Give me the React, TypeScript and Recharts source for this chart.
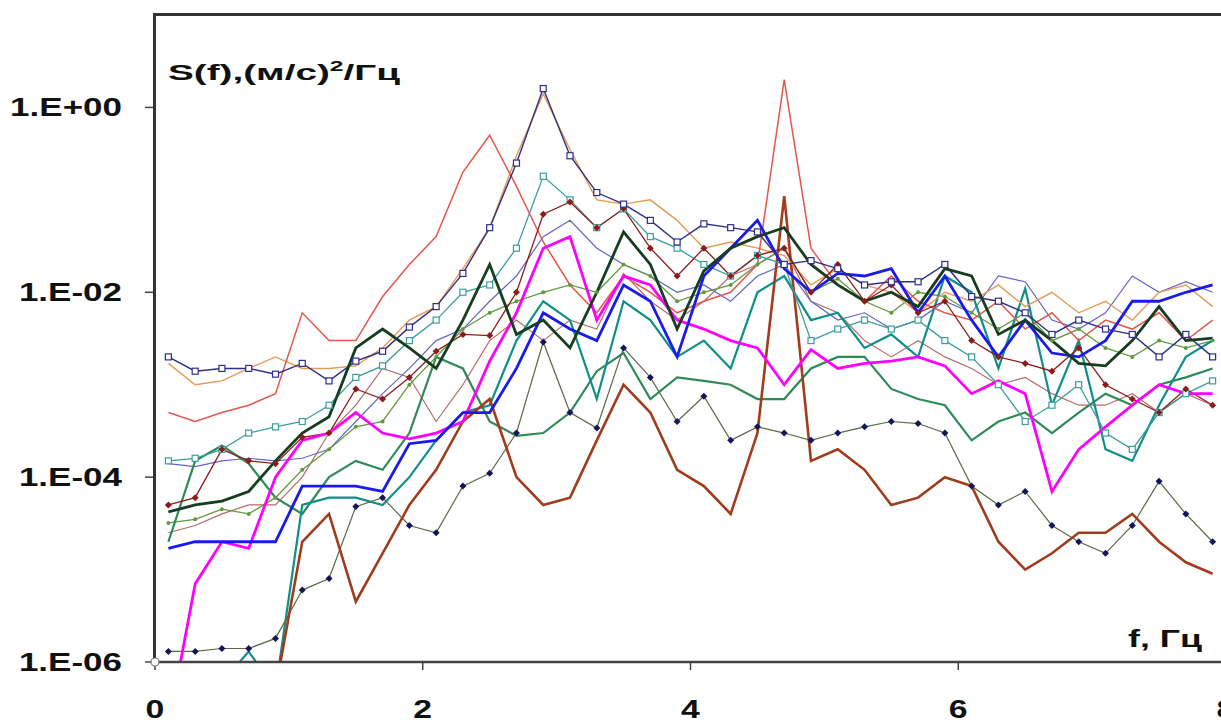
import { LineChart, Line, XAxis, YAxis } from "recharts";

// frequency grid, Hz
const freq = [
  0.1, 0.3, 0.5, 0.7, 0.9, 1.1, 1.3, 1.5, 1.7, 1.9,
  2.1, 2.3, 2.5, 2.7, 2.9, 3.1, 3.3, 3.5, 3.7, 3.9,
  4.1, 4.3, 4.5, 4.7, 4.9, 5.1, 5.3, 5.5, 5.7, 5.9,
  6.1, 6.3, 6.5, 6.7, 6.9, 7.1, 7.3, 7.5, 7.7, 7.9,
];

const xTicks = [0, 2, 4, 6, 8];
const yTicks = [1e-6, 1e-4, 1e-2, 1];
const yTickLabels = ["1.E-06", "1.E-04", "1.E-02", "1.E+00"];

// spectra S(f), (m/s)^2/Hz
const redThin = [
  5e-4, 4e-4, 5e-4, 6e-4, 8e-4, 6e-3, 3e-3, 3e-3, 9e-3, 2e-2,
  4e-2, 0.2, 0.5, 0.14, 0.035, 1.2e-2, 6e-3, 1.5e-2, 1e-2, 6e-3,
  8e-3, 1e-2, 2e-2, 2.0, 3e-2, 1.2e-2, 8e-3, 1.5e-2, 8e-3, 6e-3,
  5e-3, 8e-3, 4e-3, 6e-3, 3e-3, 5e-3, 4e-3, 6e-3, 3e-3, 5e-3,
];
const orangeThin = [
  1.7e-3, 1e-3, 1.1e-3, 1.5e-3, 2e-3, 1.5e-3, 1.5e-3, 1.6e-3, 2.5e-3, 5e-3,
  7e-3, 1.8e-2, 5e-2, 0.3, 1.4, 0.35, 0.1, 0.09, 0.1, 0.06,
  0.03, 0.035, 0.03, 0.025, 0.012, 0.018, 0.012, 0.01, 0.006, 0.01,
  0.008, 0.012, 0.007, 0.01, 0.006, 0.008, 0.005, 0.01, 0.012, 0.007,
];
const navySquares = [
  2e-3, 1.4e-3, 1.5e-3, 1.5e-3, 1.3e-3, 1.7e-3, 1.1e-3, 1.8e-3, 2.3e-3, 4.2e-3,
  7e-3, 1.6e-2, 5e-2, 0.25, 1.6, 0.3, 0.12, 0.09, 0.06, 0.035,
  0.055, 0.05, 0.045, 0.02, 0.022, 0.018, 0.012, 0.013, 0.013, 0.02,
  0.009, 0.008, 0.006, 0.0035, 0.005, 0.004, 0.0035, 0.002, 0.0035, 0.002,
];
const tealSquares = [
  1.5e-4, 1.6e-4, 2e-4, 3e-4, 3.5e-4, 4e-4, 6e-4, 1.2e-3, 1.6e-3, 3e-3,
  5e-3, 1e-2, 1.2e-2, 3e-2, 0.18, 0.1, 0.05, 0.08, 0.04, 0.03,
  0.02, 0.015, 0.025, 0.02, 0.003, 0.004, 0.005, 0.004, 0.005, 0.003,
  0.002, 0.001, 4e-4, 6e-4, 1e-3, 3e-4, 2e-4, 5e-4, 8e-4, 1.1e-3,
];
const maroonDots = [
  5e-5, 6e-5, 2e-4, 1.5e-4, 1.4e-4, 2.7e-4, 3e-4, 9e-4, 7e-4, 1.2e-3,
  2.3e-3, 3.5e-3, 3.4e-3, 1e-2, 7e-2, 0.095, 0.05, 0.08, 0.03, 0.015,
  0.03, 0.015, 0.025, 0.03, 0.01, 0.02, 0.008, 0.012, 0.006, 0.008,
  0.003, 0.002, 0.0017, 0.0014, 0.0025, 0.001, 7e-4, 5e-4, 9e-4, 6e-4,
];
const magenta = [
  2e-7, 7e-6, 2e-5, 1.7e-5, 1e-4, 2.5e-4, 3e-4, 5e-4, 3e-4, 2.6e-4,
  3e-4, 4e-4, 1.8e-3, 6e-3, 3e-2, 4e-2, 5e-3, 1.5e-2, 1.2e-2, 5e-3,
  4e-3, 3e-3, 2.5e-3, 1e-3, 2.4e-3, 1.5e-3, 1.7e-3, 1.8e-3, 2e-3, 1.6e-3,
  8e-4, 1.1e-3, 8e-4, 7e-5, 2e-4, 3.5e-4, 6e-4, 1e-3, 8e-4, 8e-4,
];
const blue = [
  1.7e-5, 2e-5, 2e-5, 2e-5, 2e-5, 8e-5, 8e-5, 8e-5, 7e-5, 2.3e-4,
  2.5e-4, 5e-4, 5e-4, 1.5e-3, 6e-3, 4e-3, 3e-3, 1.2e-2, 8e-3, 2e-3,
  1.5e-2, 3e-2, 6e-2, 1.8e-2, 1e-2, 1.6e-2, 1.5e-2, 1.8e-2, 6e-3, 1.5e-2,
  5e-3, 2e-3, 5e-3, 2.2e-3, 2e-3, 3e-3, 8e-3, 8e-3, 1e-2, 1.2e-2,
];
const darkGreen = [
  4.2e-5, 5e-5, 5.5e-5, 7e-5, 1.5e-4, 3e-4, 4.5e-4, 2.5e-3, 4e-3, 2.5e-3,
  1.5e-3, 5e-3, 2e-2, 3.5e-3, 5e-3, 2.5e-3, 1e-2, 4.5e-2, 2e-2, 4e-3,
  1.7e-2, 3e-2, 4e-2, 5e-2, 2e-2, 1.2e-2, 8e-3, 1e-2, 7e-3, 1.8e-2,
  1.5e-2, 3.5e-3, 5e-3, 3e-3, 1.7e-3, 1.6e-3, 3e-3, 7e-3, 3e-3, 3.2e-3,
];
const green = [
  2e-5, 1.5e-4, 2.2e-4, 1.4e-4, 6e-5, 4e-5, 1e-4, 1.5e-4, 1.2e-4, 3e-4,
  2e-3, 1.5e-3, 4e-4, 2.8e-4, 3e-4, 5e-4, 1.4e-3, 2.2e-3, 7e-4, 1.2e-3,
  1.1e-3, 1e-3, 7e-4, 7e-4, 1.5e-3, 2e-3, 2e-3, 9e-4, 7e-4, 6e-4,
  2.5e-4, 4e-4, 5e-4, 3e-4, 5e-4, 8e-4, 6e-4, 1e-3, 1.2e-3, 1.5e-3,
];
const teal = [
  5e-7, 1e-6, 6e-7, 1.3e-6, 5e-7, 5e-5, 6e-5, 6e-5, 5e-5, 1e-4,
  2.5e-4, 5e-4, 6e-4, 3e-3, 8e-3, 5e-3, 7e-4, 8e-3, 5e-3, 2e-3,
  3e-3, 1.5e-3, 1e-2, 1.5e-2, 5e-3, 6e-3, 2.5e-3, 3.5e-3, 2e-3, 1.5e-2,
  1e-2, 1.5e-3, 1.1e-2, 6e-4, 3e-3, 2e-4, 1.5e-4, 6e-4, 2e-3, 3e-3,
];
const brown = [
  3e-7, 3e-7, 3e-7, 3e-7, 5e-7, 2e-5, 4e-5, 4.5e-6, 1.5e-5, 5e-5,
  1.2e-4, 4e-4, 7e-4, 1e-4, 5e-5, 6e-5, 2.5e-4, 1e-3, 5e-4, 1.2e-4,
  8e-5, 4e-5, 3e-4, 0.11, 1.5e-4, 2e-4, 1.2e-4, 5e-5, 6e-5, 1e-4,
  8e-5, 2e-5, 1e-5, 1.5e-5, 2.5e-5, 2.5e-5, 4e-5, 2e-5, 1.2e-5, 9e-6,
];
const navyDots = [
  1.3e-6, 1.3e-6, 1.4e-6, 1.4e-6, 1.8e-6, 6e-6, 8e-6, 4.8e-5, 6e-5, 3e-5,
  2.5e-5, 8e-5, 1.1e-4, 3e-4, 2.9e-3, 5e-4, 3.4e-4, 2.5e-3, 1.2e-3, 4e-4,
  7.5e-4, 2.5e-4, 3.5e-4, 3e-4, 2.5e-4, 3e-4, 3.5e-4, 4e-4, 3.8e-4, 3e-4,
  8e-5, 5e-5, 7e-5, 3e-5, 2e-5, 1.5e-5, 3e-5, 9e-5, 4e-5, 2e-5,
];
const oliveDots = [
  3.2e-5, 3.5e-5, 4.5e-5, 4e-5, 6e-5, 1.2e-4, 2e-4, 3.5e-4, 4e-4, 1e-3,
  2e-3, 4e-3, 6e-3, 8e-3, 1e-2, 1.2e-2, 1e-2, 2e-2, 1.5e-2, 8e-3,
  1e-2, 1.2e-2, 2e-2, 3e-2, 1e-2, 1.4e-2, 8e-3, 6e-3, 1e-2, 9e-3,
  6e-3, 4e-3, 6e-3, 3e-3, 4e-3, 2.5e-3, 2e-3, 3e-3, 2.5e-3, 3e-3,
];
const rosyThin = [
  2.5e-5, 3e-5, 4e-5, 5e-5, 5e-5, 1e-4, 3e-4, 6e-4, 1.5e-3, 1.2e-3,
  4e-4, 1e-3, 3e-3, 5e-3, 3e-3, 5e-3, 4e-3, 1.6e-2, 8e-3, 5e-3,
  8e-3, 1.5e-2, 2e-2, 3e-2, 8e-3, 6e-3, 3e-3, 2e-3, 3e-3, 2e-3,
  1.5e-3, 1e-3, 1.2e-3, 8e-4, 6e-4, 6e-4, 8e-4, 5e-4, 8e-4, 6e-4,
];
const slateThin = [
  1.4e-4, 1.3e-4, 1.5e-4, 1.6e-4, 1.5e-4, 1.6e-4, 2e-4, 4e-4, 8e-4, 1.5e-3,
  3e-3, 4e-3, 8e-3, 1.5e-2, 4e-2, 6e-2, 3e-2, 2e-2, 1.5e-2, 1e-2,
  1.2e-2, 8e-3, 1.5e-2, 2e-2, 8e-3, 5e-3, 6e-3, 4e-3, 5e-3, 8e-3,
  6e-3, 1.5e-2, 1.3e-2, 5e-3, 4e-3, 6e-3, 1.5e-2, 1e-2, 1.3e-2, 1e-2,
];

type Marker = "square" | "diamond" | "dot" | null;

const series: { key: string; values: number[]; color: string; width: number; marker: Marker; markerColor?: string }[] = [
  { key: "rosy", values: rosyThin, color: "#b86a6a", width: 1.2, marker: null },
  { key: "slate", values: slateThin, color: "#6464c4", width: 1.2, marker: null },
  { key: "olive", values: oliveDots, color: "#5f9a3c", width: 1.3, marker: "dot" },
  { key: "green", values: green, color: "#2e8b57", width: 2.2, marker: null },
  { key: "teal", values: teal, color: "#0f8f88", width: 2.2, marker: null },
  { key: "navyDots", values: navyDots, color: "#5a6a4a", width: 1.2, marker: "diamond", markerColor: "#14145a" },
  { key: "brown", values: brown, color: "#a03c1c", width: 2.6, marker: null },
  { key: "orange", values: orangeThin, color: "#e79a55", width: 1.4, marker: null },
  { key: "red", values: redThin, color: "#e4574f", width: 1.5, marker: null },
  { key: "tealSq", values: tealSquares, color: "#3a9e9e", width: 1.3, marker: "square" },
  { key: "maroon", values: maroonDots, color: "#8b1c1c", width: 1.3, marker: "diamond" },
  { key: "magenta", values: magenta, color: "#ff00ff", width: 2.8, marker: null },
  { key: "blue", values: blue, color: "#1a1aee", width: 2.8, marker: null },
  { key: "navySq", values: navySquares, color: "#2e2e8a", width: 1.4, marker: "square" },
  { key: "darkGreen", values: darkGreen, color: "#173d20", width: 2.8, marker: null },
];

const rows = freq.map((f, i) => {
  const row: Record<string, number> = { f };
  series.forEach((s) => {
    row[s.key] = s.values[i];
  });
  return row;
});

const FONT = "'Liberation Sans', Arial, sans-serif";

const makeDot = (kind: Marker, color: string) => (props: any) => {
  const { cx, cy, index } = props;
  if (cx == null || cy == null) return <g key={index} />;
  if (kind === "square") {
    return <rect key={index} x={cx - 3} y={cy - 3} width={6} height={6} fill="#fff" stroke={color} strokeWidth={1.2} />;
  }
  if (kind === "diamond") {
    return <path key={index} d={`M${cx},${cy - 3.5}L${cx + 3.5},${cy}L${cx},${cy + 3.5}L${cx - 3.5},${cy}Z`} fill={color} />;
  }
  return <circle key={index} cx={cx} cy={cy} r={2} fill={color} />;
};

const YTick = (props: any) => {
  const { y, payload } = props;
  const idx = yTicks.indexOf(payload.value);
  return (
    <text
      transform={`translate(122, ${y + 9}) scale(1.4, 1)`}
      textAnchor="end"
      fontFamily={FONT}
      fontWeight="bold"
      fontSize={25}
      fill="#111"
    >
      {yTickLabels[idx]}
    </text>
  );
};

const XTick = (props: any) => {
  const { x, payload } = props;
  return (
    <text
      transform={`translate(${x}, 718) scale(1.35, 1)`}
      textAnchor="middle"
      fontFamily={FONT}
      fontWeight="bold"
      fontSize={25}
      fill="#111"
    >
      {payload.value}
    </text>
  );
};

export default function App() {
  return (
    <div style={{ position: "fixed", left: 0, top: 0, width: 1221, height: 722, overflow: "hidden", background: "#fff" }}>
      <LineChart width={1240} height={722} data={rows} margin={{ top: 15, right: 14, bottom: 0, left: 0 }}>
        <XAxis
          dataKey="f"
          type="number"
          domain={[0, 8]}
          ticks={xTicks}
          height={60}
          tickSize={8}
          tickLine={{ stroke: "#444", strokeWidth: 1.5 }}
          axisLine={false}
          tick={<XTick />}
          interval={0}
        />
        <YAxis
          scale="log"
          domain={[1e-6, 10]}
          allowDataOverflow
          ticks={yTicks}
          width={155}
          tickSize={10}
          tickLine={{ stroke: "#444", strokeWidth: 1.5 }}
          axisLine={false}
          tick={<YTick />}
          interval={0}
        />
        {series.map((s) => (
          <Line
            key={s.key}
            dataKey={s.key}
            type="linear"
            stroke={s.color}
            strokeWidth={s.width}
            dot={s.marker ? makeDot(s.marker, s.markerColor ?? s.color) : false}
            activeDot={false}
            isAnimationActive={false}
          />
        ))}
      </LineChart>
      <svg width={1221} height={722} style={{ position: "absolute", left: 0, top: 0, pointerEvents: "none" }}>
        {/* plot frame: left, top, bottom */}
        <line x1={154.5} y1={13} x2={154.5} y2={663} stroke="#333" strokeWidth={3} />
        <line x1={153} y1={14.5} x2={1221} y2={14.5} stroke="#333" strokeWidth={3} />
        <line x1={153} y1={662} x2={1221} y2={662} stroke="#444" strokeWidth={2.5} />
        <circle cx={155} cy={662} r={4} fill="#fff" stroke="#777" strokeWidth={1.2} />
        <text x={168} y={80} fontFamily={FONT} fontWeight="bold" fontSize={22} fill="#111" textLength={232} lengthAdjust="spacingAndGlyphs">
          S(f),(м/с)
          <tspan dy={-9} fontSize={14}>2</tspan>
          <tspan dy={9}>/Гц</tspan>
        </text>
        <text x={1128} y={647} fontFamily={FONT} fontWeight="bold" fontSize={23} fill="#111" textLength={74} lengthAdjust="spacingAndGlyphs">
          f, Гц
        </text>
      </svg>
    </div>
  );
}
